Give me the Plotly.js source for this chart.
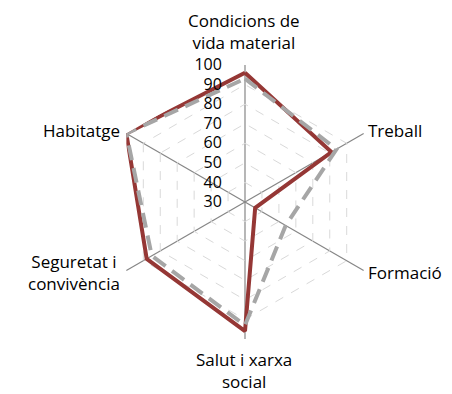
<!DOCTYPE html>
<html><head><meta charset="utf-8">
<script src="https://cdn.plot.ly/plotly-3.0.1.min.js"></script>
<style>body{margin:0;padding:0;background:#fff}#chart{width:452px;height:394px}</style>
</head><body><div id="chart"></div>
<script>
const categories = ["Condicions de vida material", "Treball", "Formació", "Salut i xarxa social", "Seguretat i convivència", "Habitatge"];
const categoryLabels = ["Condicions de<br>vida material", "Treball", "Formació", "Salut i xarxa<br>social", "Seguretat i<br>convivència", "Habitatge"];
const seriesA = [96, 81, 36, 96, 88, 100];
const seriesB = [93, 84, 54, 93, 85, 100];
const tickVals = [30, 40, 50, 60, 70, 80, 90, 100];

const closeLoop = a => a.concat([a[0]]);
const traces = [
  {type: "scatterpolar", r: closeLoop(seriesA), theta: closeLoop(categories), mode: "lines",
   line: {color: "#953735", width: 4}, hoverinfo: "skip"},
  {type: "scatterpolar", r: closeLoop(seriesB), theta: closeLoop(categories), mode: "lines",
   line: {color: "#a6a6a6", width: 4, dash: "15px,8px"}, hoverinfo: "skip"}
];
const labelPos = [
  {x: 244, y: 32, xanchor: "center", align: "center"},
  {x: 366, y: 130, xanchor: "left", align: "left"},
  {x: 366, y: 272, xanchor: "left", align: "left"},
  {x: 244, y: 370, xanchor: "center", align: "center"},
  {x: 122, y: 272, xanchor: "right", align: "center"},
  {x: 122, y: 130, xanchor: "right", align: "right"}
];
const W = 452, H = 394;
const annotations = categoryLabels.map((t, i) => ({
  text: t, xref: "paper", yref: "paper", showarrow: false,
  x: (labelPos[i].x - 108) / (W - 108 - 70), y: 1 - (labelPos[i].y - 65) / (H - 65 - 55),
  xanchor: labelPos[i].xanchor, yanchor: "middle", align: labelPos[i].align,
  font: {size: 17, color: "#000"}
}));
const layout = {
  width: W, height: H, showlegend: false,
  paper_bgcolor: "#fff", plot_bgcolor: "#fff",
  margin: {l: 108, r: 70, t: 65, b: 55},
  font: {family: "Open Sans, sans-serif", size: 16, color: "#000"},
  annotations: annotations,
  polar: {
    gridshape: "linear", bgcolor: "#fff",
    radialaxis: {range: [30, 100], tickvals: tickVals, ticktext: tickVals.map(String),
      angle: 90, tickangle: 90, side: "counterclockwise", showline: false,
      ticks: "outside", ticklen: 17, tickcolor: "rgba(0,0,0,0)",
      gridcolor: "#d9d9d9", griddash: "dash", gridwidth: 1,
      tickfont: {size: 16, color: "#000"}},
    angularaxis: {direction: "clockwise", rotation: 90, showline: false, ticks: "",
      showticklabels: false,
      gridcolor: "#868686", gridwidth: 1.2}
  }
};
Plotly.newPlot("chart", traces, layout, {staticPlot: true});
</script></body></html>
